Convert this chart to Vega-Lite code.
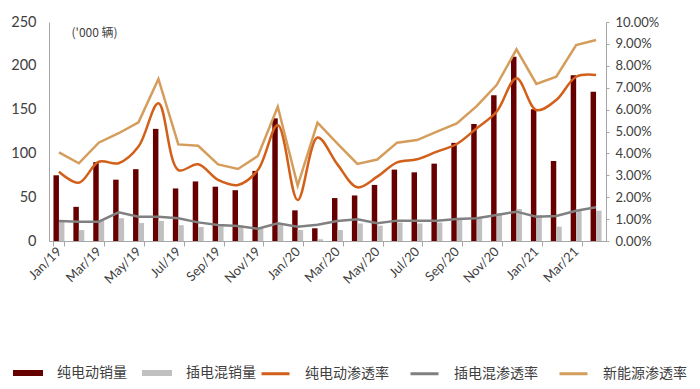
{
  "$schema": "https://vega.github.io/schema/vega-lite/v6.json",
  "width": 557,
  "height": 219,
  "autosize": {"type": "none"},
  "padding": {"left": 49, "top": 22, "right": 94, "bottom": 148},
  "config": {
    "view": {"stroke": null},
    "axis": {"grid": false, "labelFont": "Lato", "labelColor": "#404040", "domainColor": "#A6A6A6", "tickColor": "#A6A6A6"},
    "legend": {"labelFont": "Noto Sans CJK SC", "labelFontSize": 14, "labelColor": "#404040"}
  },
  "data": {
    "values": [
      {"month": "Jan/19", "bev": 75, "phev": 22, "bev_pen": 3.16, "phev_pen": 0.91, "nev_pen": 4.05},
      {"month": "Feb/19", "bev": 39, "phev": 12.5, "bev_pen": 2.66, "phev_pen": 0.88, "nev_pen": 3.55},
      {"month": "Mar/19", "bev": 90, "phev": 23, "bev_pen": 3.62, "phev_pen": 0.88, "nev_pen": 4.49},
      {"month": "Apr/19", "bev": 70, "phev": 26, "bev_pen": 3.55, "phev_pen": 1.31, "nev_pen": 4.92},
      {"month": "May/19", "bev": 82, "phev": 20.5, "bev_pen": 4.31, "phev_pen": 1.11, "nev_pen": 5.42},
      {"month": "Jun/19", "bev": 128, "phev": 23, "bev_pen": 6.29, "phev_pen": 1.11, "nev_pen": 7.4},
      {"month": "Jul/19", "bev": 60, "phev": 18, "bev_pen": 3.24, "phev_pen": 1.04, "nev_pen": 4.41},
      {"month": "Aug/19", "bev": 68, "phev": 16, "bev_pen": 3.5, "phev_pen": 0.85, "nev_pen": 4.35},
      {"month": "Sep/19", "bev": 62, "phev": 18, "bev_pen": 2.79, "phev_pen": 0.73, "nev_pen": 3.5},
      {"month": "Oct/19", "bev": 58, "phev": 16, "bev_pen": 2.56, "phev_pen": 0.68, "nev_pen": 3.29},
      {"month": "Nov/19", "bev": 80, "phev": 14, "bev_pen": 3.24, "phev_pen": 0.56, "nev_pen": 3.88},
      {"month": "Dec/19", "bev": 140, "phev": 20, "bev_pen": 5.3, "phev_pen": 0.81, "nev_pen": 6.13},
      {"month": "Jan/20", "bev": 35, "phev": 12.5, "bev_pen": 1.87, "phev_pen": 0.65, "nev_pen": 2.53},
      {"month": "Feb/20", "bev": 14.5, "phev": 2, "bev_pen": 4.73, "phev_pen": 0.74, "nev_pen": 5.4},
      {"month": "Mar/20", "bev": 49, "phev": 12.5, "bev_pen": 3.5, "phev_pen": 0.91, "nev_pen": 4.45},
      {"month": "Apr/20", "bev": 52, "phev": 20, "bev_pen": 2.45, "phev_pen": 0.99, "nev_pen": 3.52},
      {"month": "May/20", "bev": 64, "phev": 17.5, "bev_pen": 2.94, "phev_pen": 0.81, "nev_pen": 3.72},
      {"month": "Jun/20", "bev": 81.5, "phev": 21, "bev_pen": 3.59, "phev_pen": 0.93, "nev_pen": 4.49},
      {"month": "Jul/20", "bev": 78.4, "phev": 20, "bev_pen": 3.73, "phev_pen": 0.93, "nev_pen": 4.61},
      {"month": "Aug/20", "bev": 88.3, "phev": 21, "bev_pen": 4.08, "phev_pen": 0.93, "nev_pen": 4.99},
      {"month": "Sep/20", "bev": 112, "phev": 24, "bev_pen": 4.43, "phev_pen": 1.0, "nev_pen": 5.37},
      {"month": "Oct/20", "bev": 133.6, "phev": 26, "bev_pen": 5.15, "phev_pen": 1.04, "nev_pen": 6.16},
      {"month": "Nov/20", "bev": 166.3, "phev": 31.6, "bev_pen": 5.9, "phev_pen": 1.19, "nev_pen": 7.12},
      {"month": "Dec/20", "bev": 210.4, "phev": 36.5, "bev_pen": 7.43, "phev_pen": 1.34, "nev_pen": 8.75},
      {"month": "Jan/21", "bev": 150.3, "phev": 29.7, "bev_pen": 5.98, "phev_pen": 1.11, "nev_pen": 7.17},
      {"month": "Feb/21", "bev": 91.3, "phev": 16.3, "bev_pen": 6.44, "phev_pen": 1.14, "nev_pen": 7.5},
      {"month": "Mar/21", "bev": 189.2, "phev": 34.6, "bev_pen": 7.5, "phev_pen": 1.38, "nev_pen": 8.95},
      {"month": "Apr/21", "bev": 170.4, "phev": 34.6, "bev_pen": 7.58, "phev_pen": 1.54, "nev_pen": 9.18}
    ]
  },
  "encoding": {
    "x": {
      "field": "month", "type": "nominal", "sort": null,
      "scale": {"paddingInner": 0.45, "paddingOuter": 0.225},
      "axis": {
        "title": null,
        "values": ["Jan/19","Mar/19","May/19","Jul/19","Sep/19","Nov/19","Jan/20","Mar/20","May/20","Jul/20","Sep/20","Nov/20","Jan/21","Mar/21"],
        "tickBand": "extent",
        "labelAngle": -45, "labelAlign": "right", "labelBaseline": "middle",
        "labelFontSize": 13, "labelPadding": 3, "tickSize": 5
      }
    }
  },
  "layer": [
    {
      "transform": [{"fold": ["bev", "phev"], "as": ["series", "sales"]}],
      "mark": {"type": "bar"},
      "encoding": {
        "xOffset": {"field": "series", "type": "nominal", "sort": ["bev", "phev"], "scale": {"paddingInner": 0, "paddingOuter": 0}},
        "y": {
          "field": "sales", "type": "quantitative",
          "scale": {"domain": [0, 250]},
          "axis": {
            "orient": "left", "values": [0, 50, 100, 150, 200, 250], "ticks": false,
            "labelFontSize": 14.5, "labelPadding": 13,
            "title": "('000 辆)", "titleAngle": 0, "titleX": 22, "titleY": 10,
            "titleAlign": "left", "titleBaseline": "middle",
            "titleFont": "Noto Sans CJK SC", "titleFontSize": 12, "titleFontWeight": "normal", "titleColor": "#404040"
          }
        },
        "fill": {
          "field": "series", "type": "nominal",
          "scale": {"domain": ["bev", "phev"], "range": ["#660000", "#C0C0C0"]},
          "legend": {
            "title": null, "orient": "none", "direction": "horizontal",
            "legendX": -36, "legendY": 336,
            "symbolType": "M-1,-0.2H1V0.2H-1Z", "symbolSize": 900, "symbolStrokeWidth": 0,
            "labelOffset": 14, "columnPadding": 15, "padding": 0,
            "labelExpr": "datum.label == 'bev' ? '纯电动销量' : '插电混销量'"
          }
        }
      }
    },
    {
      "layer": [
        {
          "transform": [{"fold": ["bev_pen"], "as": ["series", "pen"]}],
          "mark": {"type": "line", "interpolate": "catmull-rom", "strokeWidth": 2.5},
          "encoding": {
            "y": {"field": "pen", "type": "quantitative", "scale": {"domain": [0, 10]},
              "axis": {"orient": "right", "values": [0,1,2,3,4,5,6,7,8,9,10], "title": null,
                "labelExpr": "format(datum.value, '.2f') + '%'", "labelFontSize": 13, "tickSize": 3, "labelPadding": 6}},
            "stroke": {"field": "series", "type": "nominal"}
          }
        },
        {
          "transform": [{"fold": ["phev_pen", "nev_pen"], "as": ["series", "pen"]}],
          "mark": {"type": "line", "strokeWidth": 2.5},
          "encoding": {
            "y": {"field": "pen", "type": "quantitative", "scale": {"domain": [0, 10]},
              "axis": {"orient": "right", "values": [0,1,2,3,4,5,6,7,8,9,10], "title": null,
                "labelExpr": "format(datum.value, '.2f') + '%'", "labelFontSize": 13, "tickSize": 3, "labelPadding": 6}},
            "stroke": {
              "field": "series", "type": "nominal",
              "scale": {"domain": ["bev_pen", "phev_pen", "nev_pen"], "range": ["#D2601A", "#808080", "#D59D5B"]},
              "legend": {
                "title": null, "orient": "none", "direction": "horizontal",
                "legendX": 211, "legendY": 336,
                "symbolType": "stroke", "symbolSize": 784, "symbolStrokeWidth": 3,
                "labelOffset": 14, "columnPadding": 15, "padding": 0,
                "labelExpr": "datum.label == 'bev_pen' ? '纯电动渗透率' : datum.label == 'phev_pen' ? '插电混渗透率' : '新能源渗透率'"
              }
            }
          }
        }
      ]
    }
  ],
  "resolve": {"scale": {"y": "independent"}}
}
